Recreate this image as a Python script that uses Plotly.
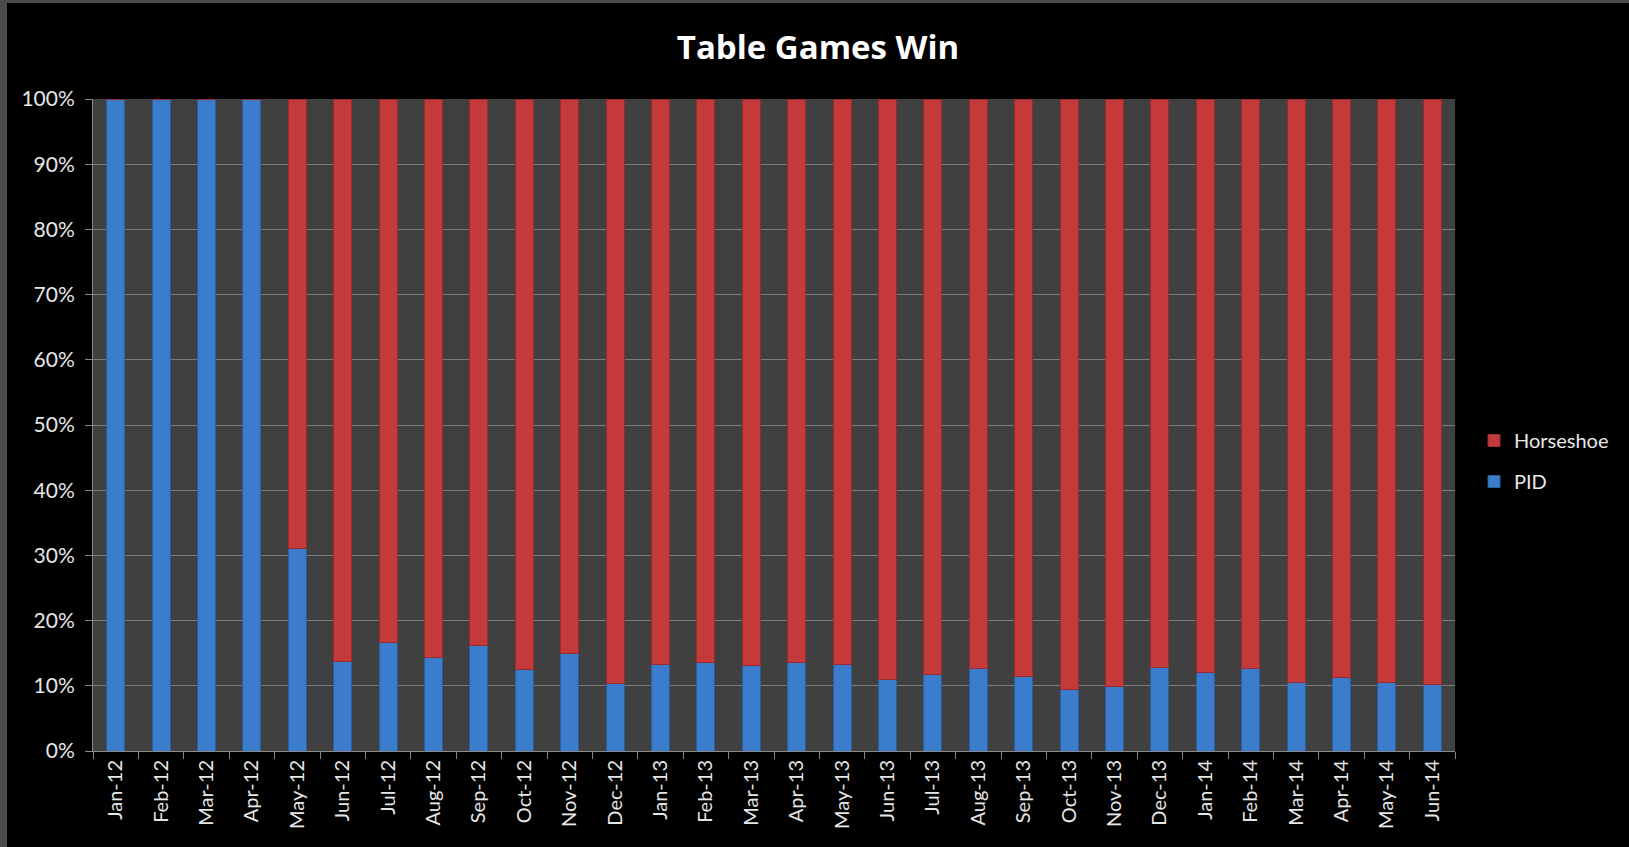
import plotly.graph_objects as go

months = ["Jan-12", "Feb-12", "Mar-12", "Apr-12", "May-12", "Jun-12", "Jul-12", "Aug-12",
          "Sep-12", "Oct-12", "Nov-12", "Dec-12", "Jan-13", "Feb-13", "Mar-13", "Apr-13",
          "May-13", "Jun-13", "Jul-13", "Aug-13", "Sep-13", "Oct-13", "Nov-13", "Dec-13",
          "Jan-14", "Feb-14", "Mar-14", "Apr-14", "May-14", "Jun-14"]

pid = [100, 100, 100, 100, 31.0, 13.7, 16.7, 14.4, 16.2, 12.5, 14.9, 10.4, 13.3, 13.5,
       13.1, 13.5, 13.3, 10.9, 11.7, 12.7, 11.5, 9.5, 9.9, 12.8, 12.1, 12.7, 10.5, 11.3,
       10.5, 10.2]

horseshoe = [0, 0, 0, 0, 69.0, 86.3, 83.3, 85.6, 83.8, 87.5, 85.1, 89.6, 86.7, 86.5,
             86.9, 86.5, 86.7, 89.1, 88.3, 87.3, 88.5, 90.5, 90.1, 87.2, 87.9, 87.3, 89.5,
             88.7, 89.5, 89.8]

y_ticks = [0, 10, 20, 30, 40, 50, 60, 70, 80, 90, 100]
y_tick_labels = ["0%", "10%", "20%", "30%", "40%", "50%", "60%", "70%", "80%", "90%", "100%"]

W, H = 1629, 847
ML, MR, MT, MB = 93, 174, 99, 96
PW = W - ML - MR
PH = H - MT - MB

fig = go.Figure()
fig.add_trace(go.Bar(
    x=months, y=pid, name="PID", legendgroup="pid", legendrank=2,
    marker=dict(color="#3b7dcc", line=dict(color="#2a5f9e", width=1)),
))
fig.add_trace(go.Bar(
    x=months, y=horseshoe, name="Horseshoe", legendgroup="hs", legendrank=1,
    marker=dict(color="#c4393a", line=dict(color="#9a2b2c", width=1)),
))


def px_to_paper_x(px):
    return (px - ML) / PW


def px_to_paper_y(py):
    return 1 - (py - MT) / PH


# outer frame strips (left and top) in gray
fig.add_shape(type="rect", xref="paper", yref="paper",
              x0=px_to_paper_x(0), x1=px_to_paper_x(7),
              y0=px_to_paper_y(H), y1=px_to_paper_y(0),
              fillcolor="#4b4b4b", line=dict(width=0), layer="below")
fig.add_shape(type="rect", xref="paper", yref="paper",
              x0=px_to_paper_x(0), x1=px_to_paper_x(W),
              y0=px_to_paper_y(3), y1=px_to_paper_y(0),
              fillcolor="#4b4b4b", line=dict(width=0), layer="below")

font_family = "Lato, 'Open Sans', sans-serif"

fig.update_layout(
    width=W, height=H,
    margin=dict(l=ML, r=MR, t=MT, b=MB, autoexpand=False),
    paper_bgcolor="#000000",
    plot_bgcolor="#404040",
    barmode="stack",
    bargap=0.6,
    title=dict(text="<b>Table Games Win</b>", x=818 / W, xanchor="center",
               y=1 - 47 / H, yanchor="middle", yref="container",
               font=dict(family="'Open Sans', sans-serif", size=33, color="#ffffff")),
    legend=dict(xref="container", yref="container",
                x=1474 / W, xanchor="left", y=1 - 461 / H, yanchor="middle",
                traceorder="grouped", bgcolor="rgba(0,0,0,0)",
                font=dict(family=font_family, size=20, color="#e8e8e8"),
                itemwidth=30, tracegroupgap=12),
    font=dict(family=font_family, color="#e0e0e0"),
    showlegend=True,
)

fig.update_xaxes(
    type="category",
    tickangle=-90,
    tickfont=dict(family=font_family, size=20, color="#e6e6e6"),
    showline=True, linecolor="#8a8a8a", linewidth=1,
    ticks="outside", ticklen=7, tickcolor="#8a8a8a", tickson="boundaries",
    showgrid=False,
    range=[-0.5, len(months) - 0.5],
)
fig.update_yaxes(
    range=[0, 100],
    tickvals=y_ticks, ticktext=y_tick_labels,
    tickfont=dict(family=font_family, size=21, color="#e6e6e6"),
    ticklabelstandoff=6,
    showgrid=True, gridcolor="#7c7c7c", gridwidth=1,
    showline=True, linecolor="#8a8a8a", linewidth=1,
    ticks="outside", ticklen=7, tickcolor="#8a8a8a",
    zeroline=False,
)

fig.write_html("out.html", config={"displayModeBar": False},
               post_script="document.body.style.margin='0';document.body.style.overflow='hidden';")
